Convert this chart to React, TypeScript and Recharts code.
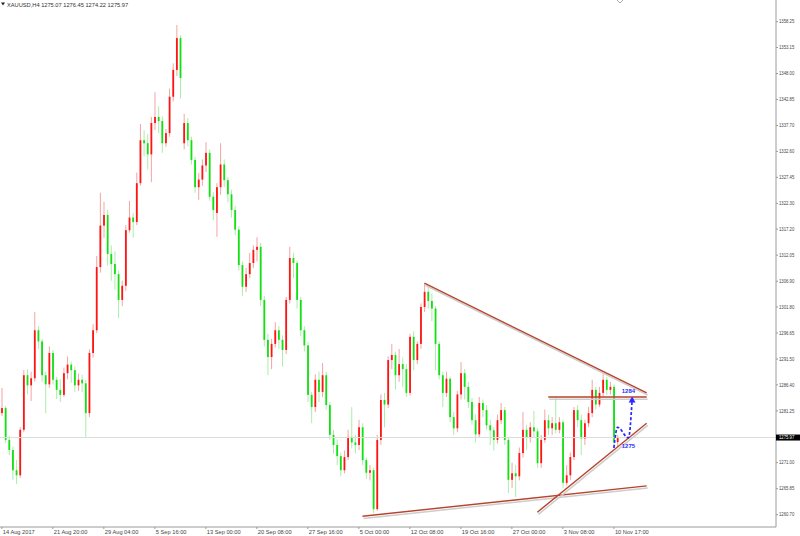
import React from 'react';
import { ComposedChart, Bar, Line, XAxis, YAxis, ReferenceLine, ReferenceDot } from 'recharts';

// XAUUSD H4 candles, 14 Aug 2017 -> 10 Nov 2017 (one slot per candle)
const opens = [
  1280.8, 1281.8, 1275.5, 1273.5, 1269.5, 1268.5, 1277.5, 1288.3, 1286.3, 1287.7,
  1297.2, 1295.0, 1288.3, 1286.5, 1292.7, 1287.4, 1285.4, 1284.4, 1288.7, 1290.4,
  1289.3, 1286.3, 1287.4, 1286.7, 1280.8, 1292.7, 1297.2, 1309.7, 1317.9, 1320.0,
  1312.3, 1310.3, 1308.3, 1303.2, 1306.0, 1317.0, 1319.5, 1318.6, 1326.3, 1334.8,
  1334.2, 1332.0, 1338.2, 1339.4, 1338.6, 1334.2, 1336.2, 1343.4, 1348.7, 1355.0,
  1334.2, 1338.2, 1334.8, 1330.9, 1325.5, 1327.0, 1329.8, 1332.3, 1323.6, 1320.4,
  1325.5, 1330.0, 1326.9, 1324.1, 1321.0, 1317.1, 1310.1, 1305.8, 1308.3, 1310.5,
  1313.1, 1313.7, 1303.2, 1295.3, 1291.9, 1294.5, 1297.2, 1295.3, 1293.3, 1303.2,
  1311.5, 1310.5, 1303.2, 1297.2, 1294.2, 1284.4, 1282.0, 1287.4, 1285.0, 1288.3,
  1282.4, 1276.5, 1274.5, 1272.3, 1269.5, 1272.1, 1276.1, 1275.0, 1274.5, 1278.0,
  1271.5, 1269.0, 1269.5, 1261.8, 1275.5, 1283.4, 1282.5, 1291.3, 1292.3, 1288.3,
  1290.5, 1289.5, 1284.8, 1295.9, 1291.3, 1294.5, 1301.8, 1304.8, 1303.0, 1301.5,
  1294.5, 1288.3, 1284.8, 1287.6, 1280.0, 1277.8, 1284.5, 1288.7, 1286.0, 1283.0,
  1279.4, 1276.6, 1282.8, 1281.4, 1278.4, 1277.4, 1275.5, 1279.4, 1281.4, 1275.5,
  1267.6, 1268.9, 1268.3, 1272.9, 1277.5, 1276.0, 1278.0, 1277.2, 1270.9, 1275.5,
  1279.4, 1277.8, 1278.8, 1277.5, 1279.0, 1267.0, 1268.5, 1272.1, 1281.4, 1279.4,
  1275.8, 1278.8, 1280.8, 1285.4, 1282.5, 1284.8, 1287.4, 1285.4, 1286.0, 1275.07,
];
const highs = [
  1285.8, 1282.2, 1276.3, 1274.2, 1271.5, 1278.0, 1289.3, 1289.5, 1289.0, 1300.8,
  1298.0, 1295.5, 1289.0, 1294.0, 1293.3, 1288.0, 1287.5, 1289.8, 1292.0, 1291.0,
  1290.0, 1288.6, 1288.4, 1287.4, 1293.4, 1298.4, 1311.9, 1324.4, 1322.6, 1321.0,
  1314.0, 1312.8, 1309.0, 1307.0, 1318.0, 1322.8, 1320.4, 1328.4, 1338.0, 1336.8,
  1336.0, 1339.4, 1344.3, 1341.5, 1339.5, 1337.0, 1345.0, 1350.0, 1357.6, 1355.6,
  1340.0, 1339.2, 1335.5, 1331.5, 1328.3, 1331.0, 1334.4, 1333.0, 1324.5, 1326.3,
  1334.2, 1331.0, 1327.5, 1325.0, 1321.8, 1317.8, 1310.8, 1309.5, 1312.5, 1314.0,
  1315.6, 1314.5, 1304.0, 1296.5, 1295.5, 1298.8, 1298.0, 1296.2, 1303.8, 1313.7,
  1312.5, 1311.0, 1303.8, 1298.0, 1294.8, 1285.0, 1288.5, 1289.0, 1290.7, 1289.0,
  1283.0, 1277.5, 1275.6, 1273.0, 1273.4, 1277.5, 1282.0, 1276.5, 1279.5, 1278.8,
  1272.0, 1270.5, 1270.0, 1276.5, 1284.5, 1284.8, 1292.0, 1294.5, 1293.0, 1293.5,
  1291.8, 1290.5, 1296.5, 1297.0, 1295.0, 1302.5, 1306.5, 1306.0, 1304.5, 1302.0,
  1295.0, 1289.0, 1289.0, 1288.0, 1281.0, 1285.2, 1290.9, 1289.5, 1287.0, 1283.8,
  1280.5, 1284.0, 1283.5, 1282.4, 1279.5, 1278.0, 1280.5, 1282.8, 1282.0, 1276.0,
  1271.0, 1270.5, 1274.0, 1281.0, 1278.5, 1279.0, 1281.2, 1277.8, 1276.5, 1281.5,
  1280.5, 1280.0, 1284.0, 1280.0, 1279.5, 1270.5, 1273.0, 1282.0, 1282.4, 1280.5,
  1279.5, 1282.0, 1287.4, 1286.0, 1286.0, 1288.7, 1288.0, 1287.0, 1286.5, 1276.45,
];
const lows = [
  1280.2, 1274.9, 1272.5, 1267.6, 1266.8, 1268.0, 1277.0, 1284.5, 1283.2, 1287.0,
  1293.5, 1287.0, 1280.8, 1285.8, 1286.5, 1283.6, 1283.0, 1284.0, 1287.5, 1286.8,
  1285.0, 1285.2, 1285.0, 1276.1, 1280.0, 1291.8, 1296.6, 1308.6, 1315.5, 1310.0,
  1307.0, 1305.2, 1299.6, 1302.0, 1305.0, 1316.5, 1315.5, 1318.0, 1325.8, 1331.6,
  1329.0, 1326.5, 1336.8, 1336.2, 1332.3, 1333.5, 1335.5, 1342.5, 1347.5, 1343.0,
  1333.0, 1333.6, 1330.0, 1324.4, 1323.0, 1325.8, 1328.5, 1322.8, 1319.0, 1315.7,
  1324.0, 1325.5, 1322.5, 1319.5, 1316.0, 1309.0, 1304.0, 1304.8, 1307.5, 1309.5,
  1310.8, 1302.0, 1294.0, 1288.3, 1289.5, 1293.8, 1293.5, 1290.0, 1292.5, 1302.5,
  1307.5, 1301.5, 1296.0, 1293.0, 1283.0, 1278.8, 1281.0, 1283.0, 1284.0, 1281.5,
  1275.5, 1272.8, 1270.5, 1268.3, 1268.9, 1271.5, 1273.8, 1272.8, 1273.5, 1270.5,
  1267.8, 1267.5, 1261.0, 1261.5, 1274.5, 1278.0, 1281.8, 1289.5, 1285.5, 1287.0,
  1286.0, 1284.0, 1284.3, 1289.3, 1290.5, 1293.5, 1300.8, 1301.5, 1299.0, 1289.3,
  1287.5, 1282.0, 1284.0, 1279.0, 1276.5, 1277.0, 1283.5, 1283.5, 1281.8, 1278.5,
  1275.0, 1276.0, 1280.0, 1277.5, 1274.5, 1273.4, 1274.8, 1278.6, 1274.5, 1265.0,
  1266.0, 1264.2, 1267.5, 1272.0, 1273.5, 1275.0, 1276.0, 1270.0, 1270.0, 1275.0,
  1276.5, 1276.5, 1276.8, 1276.8, 1266.0, 1266.5, 1267.5, 1271.5, 1278.0, 1272.5,
  1274.5, 1278.0, 1280.0, 1281.5, 1282.0, 1284.0, 1284.4, 1284.5, 1273.9, 1274.22,
];
const closes = [
  1281.8, 1275.5, 1273.5, 1269.5, 1268.5, 1277.5, 1288.3, 1286.3, 1287.7, 1297.2,
  1295.0, 1288.3, 1286.5, 1292.7, 1287.4, 1285.4, 1284.4, 1288.7, 1290.4, 1289.3,
  1286.3, 1287.4, 1286.7, 1280.8, 1292.7, 1297.2, 1309.7, 1317.9, 1320.0, 1312.3,
  1310.3, 1308.3, 1303.2, 1306.0, 1317.0, 1319.5, 1318.6, 1326.3, 1334.8, 1334.2,
  1332.0, 1338.2, 1339.4, 1338.6, 1334.2, 1336.2, 1343.4, 1348.7, 1355.0, 1347.1,
  1338.2, 1334.8, 1330.9, 1325.5, 1327.0, 1329.8, 1332.3, 1323.6, 1321.0, 1325.5,
  1330.0, 1326.9, 1324.1, 1321.0, 1317.1, 1310.1, 1305.8, 1308.3, 1310.5, 1313.1,
  1313.7, 1303.2, 1295.3, 1291.9, 1294.5, 1297.2, 1295.3, 1293.3, 1303.2, 1311.5,
  1310.5, 1303.2, 1297.2, 1294.2, 1284.4, 1282.0, 1287.4, 1285.0, 1288.3, 1282.4,
  1276.5, 1274.5, 1272.3, 1269.5, 1272.1, 1276.1, 1275.0, 1274.5, 1278.0, 1271.5,
  1269.0, 1269.5, 1261.8, 1275.5, 1283.4, 1282.5, 1291.3, 1292.3, 1288.3, 1290.5,
  1289.5, 1284.8, 1295.9, 1291.3, 1294.5, 1301.8, 1304.8, 1303.0, 1301.5, 1294.5,
  1288.3, 1284.8, 1287.6, 1280.0, 1277.8, 1284.5, 1288.7, 1286.0, 1283.0, 1279.4,
  1276.6, 1282.8, 1281.4, 1278.4, 1277.4, 1275.5, 1279.4, 1281.4, 1275.5, 1267.6,
  1268.9, 1268.3, 1272.9, 1277.5, 1276.0, 1278.0, 1277.2, 1270.9, 1275.5, 1279.4,
  1277.8, 1278.8, 1277.5, 1279.0, 1267.0, 1268.5, 1272.1, 1281.4, 1279.4, 1275.8,
  1278.8, 1280.8, 1285.4, 1282.5, 1284.8, 1287.4, 1285.4, 1286.0, 1275.1, 1275.97,
];

// the chart keeps empty room on the right, as MT4 does
const SLOTS = 213;

const dateTicks = [0, 14, 28, 42, 56, 70, 84, 98, 112, 126, 140, 154, 168];
const dateLabels = [
  '14 Aug 2017', '21 Aug 20:00', '29 Aug 04:00', '5 Sep 16:00', '13 Sep 00:00',
  '20 Sep 08:00', '27 Sep 16:00', '5 Oct 00:00', '12 Oct 08:00', '19 Oct 16:00',
  '27 Oct 00:00', '3 Nov 08:00', '10 Nov 17:00',
];

const lastPrice = 1275.97;
const priceTicks = [
  1358.25, 1353.15, 1348.0, 1342.85, 1337.7, 1332.6, 1327.45, 1322.3, 1317.2, 1312.05,
  1306.9, 1301.8, 1296.65, 1291.5, 1286.4, 1281.25, lastPrice, 1271.0, 1265.85, 1260.7,
];
const priceDomain = [1258.27, 1362.54];

// drawn trend lines, in (slot, price)
const resistanceLine = [{ x: 116, y: 1306.5 }, { x: 177, y: 1284.8 }];
const supportLine = [{ x: 99, y: 1260.4 }, { x: 177, y: 1266.4 }];
const risingLine = [{ x: 147, y: 1261.2 }, { x: 177, y: 1278.8 }];
const levelLine = [{ x: 150, y: 1284.0 }, { x: 177, y: 1284.0 }];

// blue projected path
const projSlots = [168, 169, 172, 173];
const projPrices = [1273.9, 1278.0, 1275.9, 1283.3];
const levelNotes = [
  { x: 172, y: 1285.2, text: '1284' },
  { x: 172, y: 1274.4, text: '1275' },
];

const rows = Array.from({ length: SLOTS }, (_, i) => {
  const k = projSlots.indexOf(i);
  const has = i < closes.length;
  return {
    i,
    o: has ? opens[i] : null,
    h: has ? highs[i] : null,
    l: has ? lows[i] : null,
    c: has ? closes[i] : null,
    range: has ? [lows[i], highs[i]] : null,
    proj: k >= 0 ? projPrices[k] : null,
  };
});

const FONT = '"Liberation Sans", Arial, sans-serif';

const Candle = (props: any) => {
  const { x, y, width, height, payload } = props;
  if (!payload || payload.o == null || height == null) return <g />;
  const { o, h, l, c } = payload;
  const top = Math.min(y, y + height);
  const span = Math.abs(height);
  const py = (v: number) => (h === l ? top : top + ((h - v) / (h - l)) * span);
  const cx = x + width / 2;
  const up = c >= o;
  const bTop = py(Math.max(o, c));
  const bH = Math.max(1, py(Math.min(o, c)) - bTop);
  return (
    <g>
      <line x1={cx} x2={cx} y1={top} y2={top + span} stroke={up ? '#f5a3a3' : '#a9eea9'} strokeWidth={1} />
      <rect x={cx - 0.9} y={bTop} width={1.8} height={bH} fill={up ? '#ff1414' : '#12e012'} />
    </g>
  );
};

const TrendShape = (props: any) => {
  const { x1, y1, x2, y2 } = props;
  return (
    <g>
      <line x1={x1 + 1} y1={y1 + 2.2} x2={x2 + 1} y2={y2 + 2.2} stroke="#cdcdcd" strokeWidth={1.5} />
      <line x1={x1} y1={y1} x2={x2} y2={y2} stroke="#b8432d" strokeWidth={1.4} />
    </g>
  );
};

const PriceTick = (props: any) => {
  const { x, y, payload } = props;
  const v = payload.value as number;
  if (v === lastPrice) {
    return (
      <g>
        <rect x={x - 3} y={y - 3} width={27} height={6} fill="#000" />
        <text x={x} y={y} dy="0.35em" fontSize={5} fontFamily={FONT} fill="#fff" textLength={15.3} lengthAdjust="spacingAndGlyphs">
          {v.toFixed(2)}
        </text>
      </g>
    );
  }
  return (
    <text x={x} y={y} dy="0.35em" fontSize={5} fontFamily={FONT} fill="#444" textLength={15.3} lengthAdjust="spacingAndGlyphs">
      {v.toFixed(2)}
    </text>
  );
};

const DateTick = (props: any) => {
  const { x, payload } = props;
  const k = dateTicks.indexOf(payload.value);
  // baseline sits just under the axis line, as in the terminal
  return (
    <text x={x + 1} y={533.6} fontSize={5.7} fontFamily={FONT} fill="#444">
      {k >= 0 ? dateLabels[k] : ''}
    </text>
  );
};

const ArrowDot = (props: any) => {
  const { cx, cy, payload } = props;
  if (!payload || payload.i !== projSlots[projSlots.length - 1] || cx == null) return <g key={`d${props.index}`} />;
  return (
    <polygon
      key={`d${props.index}`}
      points={`${cx},${cy - 4} ${cx - 3.5},${cy + 2} ${cx + 3.5},${cy + 2}`}
      fill="#2a2aff"
    />
  );
};

export default function App() {
  return (
    <div style={{ position: 'absolute', left: 0, top: 0, width: 800, height: 536, background: '#fff' }}>
      <ComposedChart width={800} height={536} data={rows} margin={{ top: 0, right: 0, bottom: 0, left: 0 }}>
        <XAxis
          dataKey="i"
          type="category"
          ticks={dateTicks}
          interval={0}
          tick={<DateTick />}
          tickSize={2}
          height={9}
          stroke="#9a9a9a"
        />
        <YAxis
          orientation="right"
          width={24}
          domain={priceDomain}
          allowDataOverflow
          ticks={priceTicks}
          interval={0}
          tick={<PriceTick />}
          tickSize={2}
          tickMargin={1}
          stroke="#9a9a9a"
        />
        <ReferenceLine y={lastPrice} stroke="#dcdcdc" strokeWidth={1} />
        <Bar dataKey="range" barSize={2} shape={<Candle />} isAnimationActive={false} />
        <ReferenceLine segment={resistanceLine} shape={TrendShape} />
        <ReferenceLine segment={supportLine} shape={TrendShape} />
        <ReferenceLine segment={risingLine} shape={TrendShape} />
        <ReferenceLine segment={levelLine} shape={TrendShape} />
        <Line
          dataKey="proj"
          type="monotone"
          connectNulls
          stroke="#2a2aff"
          strokeWidth={1.7}
          strokeDasharray="3 2"
          dot={ArrowDot}
          activeDot={false}
          isAnimationActive={false}
        />
        {levelNotes.map((n) => (
          <ReferenceDot
            key={n.text}
            x={n.x}
            y={n.y}
            r={0}
            fill="none"
            stroke="none"
            label={{ value: n.text, position: 'center', fill: '#2a2aff', fontSize: 6, fontWeight: 'bold', fontFamily: FONT }}
          />
        ))}
      </ComposedChart>
      <svg width={800} height={536} style={{ position: 'absolute', left: 0, top: 0, pointerEvents: 'none' }}>
        <polygon points="1,2.6 5,2.6 3,5.4" fill="#222" />
        <text x={7} y={6.6} fontSize={5.7} fontFamily={FONT} fill="#333">
          XAUUSD,H4  1275.07 1276.45 1274.22 1275.97
        </text>
        <polyline points="617,0 620,3 623,0" fill="none" stroke="#aaa" strokeWidth={1} />
      </svg>
    </div>
  );
}
